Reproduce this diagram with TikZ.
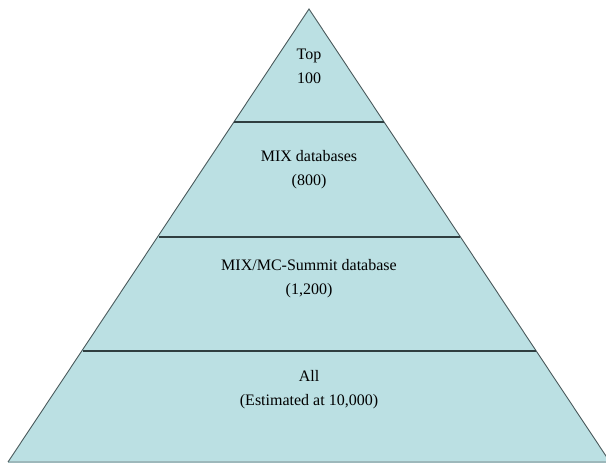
\documentclass[tikz,border=0pt]{standalone}
\usepackage{fontspec}
\setmainfont{Liberation Serif}
\definecolor{pyrfill}{HTML}{BBE0E3}
\definecolor{divline}{HTML}{2F3E40}
\definecolor{sideline}{HTML}{4A5A5C}
\definecolor{basecol}{HTML}{9DB8BB}
\begin{document}
\begin{tikzpicture}[x=1pt,y=1pt,
  label text/.style={font=\fontsize{16}{24}\selectfont, align=center, inner sep=0pt, text=black},
  divider/.style={draw=divline, line width=2pt},
  sides/.style={draw=sideline, line width=0.9pt, line join=miter}]
\useasboundingbox (0,0) rectangle (606,464);
\clip (0,0) rectangle (606,464);
% pyramid (y = 464 - pixel row)
\coordinate (apex) at (309,455);
\coordinate (bl) at (8,2);
\coordinate (br) at (610,2);
\fill[pyrfill] (apex) -- (bl) -- (br) -- cycle;
\draw[draw=basecol, line width=1.5pt] (bl) -- (br);
\draw[sides] (bl) -- (apex) -- (br);
% dividers
\coordinate (d1l) at (234,342);
\coordinate (d1r) at (384,342);
\coordinate (d2l) at (159,227);
\coordinate (d2r) at (460,227);
\coordinate (d3l) at (83,113);
\coordinate (d3r) at (536,113);
\draw[divider] (d1l) -- (d1r);
\draw[divider] (d2l) -- (d2r);
\draw[divider] (d3l) -- (d3r);
% labels
\node[label text] (top) at (309,397.5) {Top\\100};
\node[label text] (mix) at (309,294) {MIX databases\\(800)};
\node[label text] (mixmc) at (309,185.5) {MIX/MC-Summit database\\(1,200)};
\node[label text] (all) at (309,74.5) {All\\(Estimated at 10,000)};
\end{tikzpicture}
\end{document}
